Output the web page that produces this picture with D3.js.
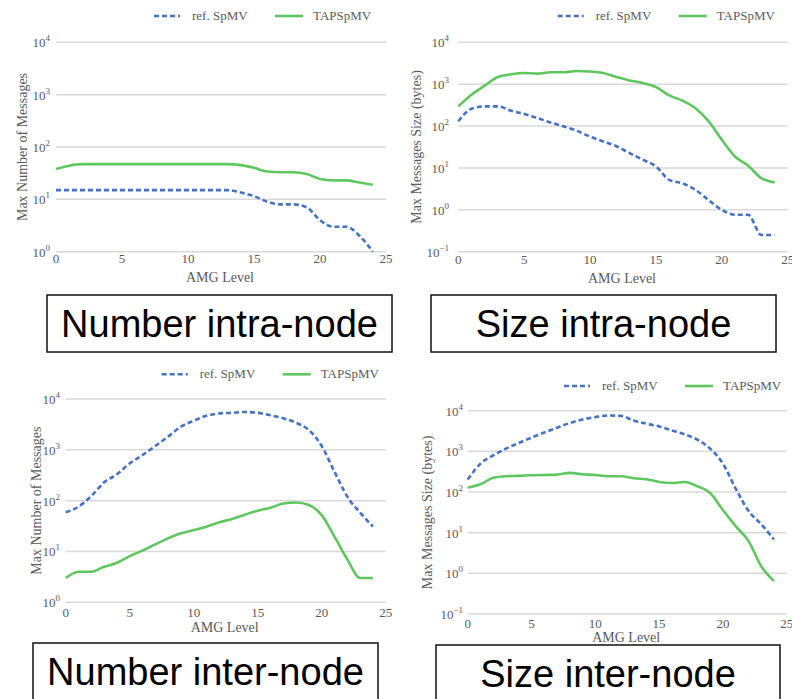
<!DOCTYPE html>
<html>
<head>
<meta charset="utf-8">
<script src="https://cdn.jsdelivr.net/npm/d3@7"></script>
<style>
  body { margin: 0; background: #fff; }
  svg { display: block; }
</style>
</head>
<body>
<div id="chart"></div>
<script>
// data (AMG level 0..24)
const levels = [0, 1, 2, 3, 4, 5, 6, 7, 8, 9, 10, 11, 12, 13, 14, 15, 16, 17, 18, 19, 20, 21, 22, 23, 24];
const xTicks = [0, 5, 10, 15, 20, 25];
const seriesNames = ["ref. SpMV", "TAPSpMV"];

const numIntraRef = [15, 15, 15, 15, 15, 15, 15, 15, 15, 15, 15, 15, 15, 15, 13.5, 11.5, 9, 8, 8, 7, 4, 3, 3, 2, 1];
const numIntraTap = [38, 44, 47, 47, 47, 47, 47, 47, 47, 47, 47, 47, 47, 47, 45, 40, 34, 33, 33, 30.5, 24.5, 23, 23, 21, 19];

const sizeIntraRef = [130, 260, 295, 295, 233, 194, 155, 122, 98, 77, 56, 43, 33, 22.6, 15.7, 10.9, 5.2, 4.3, 3, 1.7, 1.0, 0.76, 0.76, 0.25, 0.25];
const sizeIntraTap = [295, 560, 920, 1480, 1720, 1850, 1790, 1920, 1920, 2070, 2000, 1850, 1480, 1230, 1070, 855, 540, 405, 265, 129, 47, 18.8, 11.3, 5.7, 4.5];

const numInterRef = [59, 76, 123, 229, 330, 540, 790, 1190, 1820, 2850, 3730, 4690, 5200, 5350, 5550, 5350, 4780, 4170, 3410, 2450, 1190, 370, 120, 58, 31];
const numInterTap = [3, 4, 4, 5, 6, 8.1, 10.4, 13.8, 18.1, 22.8, 26.4, 30.8, 37.5, 43.6, 53, 63.5, 72.5, 88, 92, 82, 52, 19.6, 7, 3, 3];

const sizeInterRef = [203, 500, 800, 1170, 1600, 2180, 2900, 3820, 4970, 6100, 6950, 7600, 7450, 5770, 4790, 4110, 3280, 2630, 1940, 1170, 500, 122, 34.5, 16.2, 6.8];
const sizeInterTap = [129, 155, 224, 245, 250, 258, 263, 268, 295, 274, 263, 245, 245, 218, 206, 177, 167, 177, 139, 95, 36, 14.5, 6.3, 1.5, 0.65];

const numExps = [0, 1, 2, 3, 4];
const sizeExps = [-1, 0, 1, 2, 3, 4];

const captions = ["Number intra-node", "Size intra-node", "Number inter-node", "Size inter-node"];

const W = 792, H = 699;
const blue = "#4472C4", green = "#60C660", grid = "#d9d9d9", textCol = "#5a5a5a";
const serif = "'Liberation Serif', 'DejaVu Serif', serif";

const svg = d3.select("#chart").append("svg").attr("width", W).attr("height", H);

// layout of the four panels (pixel positions only)
const panels = [
  { ref: numIntraRef, tap: numIntraTap, exps: numExps, ylabel: "Max Number of Messages",
    x0: 56, x1: 386, yTop: 42.3, yBot: 251.7, tickRight: 50, yLabX: 23,
    xTickY: 263, xLabY: 282, legY: 16, legX: 154,
    box: [47, 295, 345, 57], caption: captions[0] },
  { ref: sizeIntraRef, tap: sizeIntraTap, exps: sizeExps, ylabel: "Max Messages Size (bytes)",
    x0: 458.3, x1: 787.7, yTop: 42.3, yBot: 251.7, tickRight: 449, yLabX: 417,
    xTickY: 264, xLabY: 283, legY: 16, legX: 557.7,
    box: [431, 295, 345, 57], caption: captions[1] },
  { ref: numInterRef, tap: numInterTap, exps: numExps, ylabel: "Max Number of Messages",
    x0: 65.7, x1: 385.7, yTop: 399, yBot: 602.3, tickRight: 60, yLabX: 37,
    xTickY: 617, xLabY: 632, legY: 374.3, legX: 161.7,
    box: [33, 643, 345, 70], caption: captions[2] },
  { ref: sizeInterRef, tap: sizeInterTap, exps: sizeExps, ylabel: "Max Messages Size (bytes)",
    x0: 467.7, x1: 786.7, yTop: 410.7, yBot: 614, tickRight: 463, yLabX: 428,
    xTickY: 628, xLabY: 642, legY: 386, legX: 564,
    box: [436, 645, 344, 70], caption: captions[3] }
];

function drawPanel(p) {
  const g = svg.append("g");
  const x = d3.scaleLinear().domain([0, 25]).range([p.x0, p.x1]);
  const y = d3.scaleLog()
    .domain([Math.pow(10, p.exps[0]), Math.pow(10, p.exps[p.exps.length - 1])])
    .range([p.yBot, p.yTop]);

  // horizontal gridlines
  g.selectAll(".grid").data(p.exps).enter().append("line")
    .attr("x1", x(0)).attr("x2", x(25))
    .attr("y1", d => y(Math.pow(10, d))).attr("y2", d => y(Math.pow(10, d)))
    .attr("stroke", grid).attr("stroke-width", 1.5);

  // y tick labels 10^k
  const yt = g.selectAll(".ytick").data(p.exps).enter().append("text")
    .attr("x", p.tickRight).attr("y", d => y(Math.pow(10, d)) + 5)
    .attr("text-anchor", "end")
    .attr("font-family", serif).attr("font-size", 13).attr("fill", textCol);
  yt.append("tspan").text("10");
  yt.append("tspan").attr("dy", -6).attr("font-size", 9)
    .text(d => d < 0 ? "\u2212" + (-d) : d);

  // x tick labels
  g.selectAll(".xtick").data(xTicks).enter().append("text")
    .attr("x", d => x(d)).attr("y", p.xTickY)
    .attr("text-anchor", "middle")
    .attr("font-family", serif).attr("font-size", 13).attr("fill", textCol)
    .text(d => d);

  // axis titles
  g.append("text")
    .attr("x", (p.x0 + p.x1) / 2 - 1).attr("y", p.xLabY)
    .attr("text-anchor", "middle")
    .attr("font-family", serif).attr("font-size", 14).attr("fill", textCol)
    .text("AMG Level");
  g.append("text")
    .attr("transform", `translate(${p.yLabX},${(p.yTop + p.yBot) / 2}) rotate(-90)`)
    .attr("dy", 4)
    .attr("text-anchor", "middle")
    .attr("font-family", serif).attr("font-size", 14).attr("fill", textCol)
    .text(p.ylabel);

  const line = d3.line()
    .x((d, i) => x(levels[i]))
    .y(d => y(d))
    .curve(d3.curveMonotoneX);

  g.append("path").datum(p.tap)
    .attr("d", line).attr("fill", "none")
    .attr("stroke", green).attr("stroke-width", 2.6);
  g.append("path").datum(p.ref)
    .attr("d", line).attr("fill", "none")
    .attr("stroke", blue).attr("stroke-width", 2.6)
    .attr("stroke-dasharray", "5,3");

  // legend
  const leg = g.append("g");
  leg.append("line")
    .attr("x1", p.legX).attr("x2", p.legX + 26).attr("y1", p.legY).attr("y2", p.legY)
    .attr("stroke", blue).attr("stroke-width", 2.6).attr("stroke-dasharray", "5,3");
  leg.append("text")
    .attr("x", p.legX + 38).attr("y", p.legY + 4)
    .attr("font-family", serif).attr("font-size", 13).attr("fill", textCol)
    .text(seriesNames[0]);
  leg.append("line")
    .attr("x1", p.legX + 121).attr("x2", p.legX + 149).attr("y1", p.legY).attr("y2", p.legY)
    .attr("stroke", green).attr("stroke-width", 2.6);
  leg.append("text")
    .attr("x", p.legX + 159).attr("y", p.legY + 4)
    .attr("font-family", serif).attr("font-size", 13).attr("fill", textCol)
    .text(seriesNames[1]);

  // caption box
  const [bx, by, bw, bh] = p.box;
  svg.append("rect")
    .attr("x", bx).attr("y", by).attr("width", bw).attr("height", bh)
    .attr("fill", "#fff").attr("stroke", "#111").attr("stroke-width", 1.5);
  svg.append("text")
    .attr("x", bx + bw / 2).attr("y", by + 42)
    .attr("text-anchor", "middle")
    .attr("font-family", "'Liberation Sans', Arial, sans-serif").attr("font-size", 38)
    .attr("fill", "#000")
    .text(p.caption);
}

panels.forEach(drawPanel);
</script>
</body>
</html>
